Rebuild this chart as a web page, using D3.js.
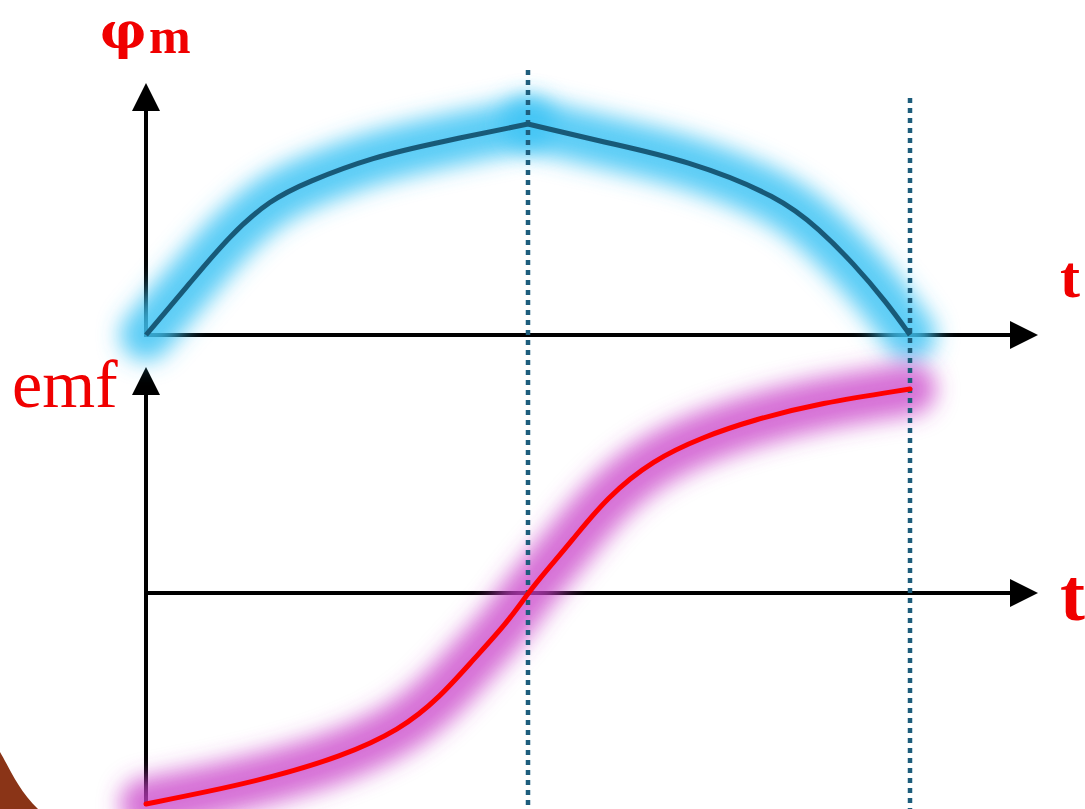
<!DOCTYPE html>
<html><head><meta charset="utf-8">
<script src="https://cdn.jsdelivr.net/npm/d3@7"></script>
<style>html,body{margin:0;padding:0;background:#fff;}svg{display:block;}</style>
</head><body>
<script>
// ---- data ----
const phiT   = [0, 0.115, 0.22, 0.325, 0.421, 0.594, 0.77, 1.0, 1.196, 1.416, 1.66, 1.764, 1.851, 1.94, 2.0];
const phiVal = [0, 0.246, 0.474, 0.64, 0.725, 0.844, 0.915, 1.0, 0.915, 0.829, 0.654, 0.498, 0.341, 0.152, 0];
const emfT   = [0, 0.16, 0.332, 0.508, 0.665, 0.77, 0.856, 0.945, 1.0, 1.055, 1.11, 1.207, 1.327, 1.458, 1.589, 1.764, 2.0];
const emfVal = [-1.034, -0.975, -0.902, -0.804, -0.672, -0.51, -0.328, -0.147, 0, 0.125, 0.245, 0.471, 0.652, 0.765, 0.848, 0.931, 1.0];
const markerT = [1, 2];
const labels = {phi: "φ", phiSub: "m", emf: "emf", t: "t"};

const W = 1085, H = 809;
const svg = d3.select("body").append("svg").attr("width", W).attr("height", H);

const x = d3.scaleLinear().domain([0, 2]).range([146, 910]);
const yPhi = d3.scaleLinear().domain([0, 1]).range([335, 124]);
const yEmf = d3.scaleLinear().domain([-1, 1]).range([797, 389]);

const defs = svg.append("defs");
const f1 = defs.append("filter").attr("id", "blur").attr("x", "-30%").attr("y", "-30%").attr("width", "160%").attr("height", "160%");
f1.append("feGaussianBlur").attr("stdDeviation", 11);

// brown decoration bottom-left
svg.append("path")
  .attr("d", "M0,752 C8,765 18,790 38,809 L0,809 Z")
  .attr("fill", "#8a3417");

const axisX0 = x(0), axisXEnd = 1038;
const phiTop = 83, emfTop = 367, emfBottom = 806;
const ah = 28, aw = 14;

function arrowUp(g, xc, tip) {
  g.append("path").attr("d", `M${xc},${tip} L${xc-aw},${tip+ah} L${xc+aw},${tip+ah} Z`).attr("fill", "#000").attr("stroke", "none");
}
function arrowRight(g, yc, tip) {
  g.append("path").attr("d", `M${tip},${yc} L${tip-ah},${yc-aw} L${tip-ah},${yc+aw} Z`).attr("fill", "#000").attr("stroke", "none");
}

// axes
const ax = svg.append("g").attr("stroke", "#000").attr("stroke-width", 4);
ax.append("line").attr("x1", axisX0).attr("x2", axisX0).attr("y1", yPhi(0)+2).attr("y2", phiTop+ah-2);
ax.append("line").attr("x1", axisX0-2).attr("x2", axisXEnd-ah+2).attr("y1", yPhi(0)).attr("y2", yPhi(0));
ax.append("line").attr("x1", axisX0).attr("x2", axisX0).attr("y1", emfBottom).attr("y2", emfTop+ah-2);
ax.append("line").attr("x1", axisX0).attr("x2", axisXEnd-ah+2).attr("y1", yEmf(0)).attr("y2", yEmf(0));
arrowUp(ax, axisX0, phiTop);
arrowRight(ax, yPhi(0), axisXEnd);
arrowUp(ax, axisX0, emfTop);
arrowRight(ax, yEmf(0), axisXEnd);

// data
const phiData = phiT.map((t, i) => ({t, v: phiVal[i]}));
const emfData = emfT.map((t, i) => ({t, v: emfVal[i]}));
const phiLeft = phiData.filter(d => d.t <= 1), phiRight = phiData.filter(d => d.t >= 1);

const linePhi = d3.line().x(d => x(d.t)).y(d => yPhi(d.v)).curve(d3.curveBasis);
const lineEmf = d3.line().x(d => x(d.t)).y(d => yEmf(d.v)).curve(d3.curveBasis);

// glows
[phiLeft, phiRight].forEach(seg => {
  svg.append("path").attr("d", linePhi(seg)).attr("fill", "none")
    .attr("stroke", "#40c4f4").attr("stroke-width", 52).attr("stroke-linecap", "round")
    .attr("stroke-opacity", 0.85).attr("filter", "url(#blur)");
});
svg.append("path").attr("d", lineEmf(emfData)).attr("fill", "none")
  .attr("stroke", "#c840c8").attr("stroke-width", 52).attr("stroke-linecap", "round")
  .attr("stroke-opacity", 0.75).attr("filter", "url(#blur)");

// dotted markers
const dotTops = [70, 98];
markerT.forEach((t, i) => {
  svg.append("line").attr("x1", x(t)).attr("x2", x(t)).attr("y1", dotTops[i]).attr("y2", H)
    .attr("stroke", "#1d5d7c").attr("stroke-width", 4.5).attr("stroke-dasharray", "5,5");
});

// curves
[phiLeft, phiRight].forEach(seg => {
  svg.append("path").attr("d", linePhi(seg)).attr("fill", "none")
    .attr("stroke", "#185a78").attr("stroke-width", 5).attr("stroke-linejoin", "round");
});
svg.append("path").attr("d", lineEmf(emfData)).attr("fill", "none")
  .attr("stroke", "#ff0000").attr("stroke-width", 5).attr("stroke-linecap", "round");

// labels
const red = "#f00000";
svg.append("text").attr("x", 100).attr("y", 48).attr("fill", red)
  .attr("font-family", "DejaVu Serif, Liberation Serif, serif").attr("font-weight", "bold").attr("font-size", 51)
  .text(labels.phi);
svg.append("text").attr("x", 149).attr("y", 53).attr("fill", red)
  .attr("font-family", "Liberation Serif, DejaVu Serif, serif").attr("font-weight", "bold").attr("font-size", 50)
  .text(labels.phiSub);
svg.append("text").attr("x", 12).attr("y", 407).attr("fill", red)
  .attr("font-family", "Liberation Serif, serif").attr("font-size", 68)
  .text(labels.emf);
svg.append("text").attr("x", 1060).attr("y", 297).attr("fill", red)
  .attr("font-family", "Liberation Serif, serif").attr("font-weight", "bold").attr("font-size", 60)
  .text(labels.t);
svg.append("text").attr("x", 1060).attr("y", 620).attr("fill", red)
  .attr("font-family", "Liberation Serif, serif").attr("font-weight", "bold").attr("font-size", 75)
  .text(labels.t);
</script>
</body></html>
